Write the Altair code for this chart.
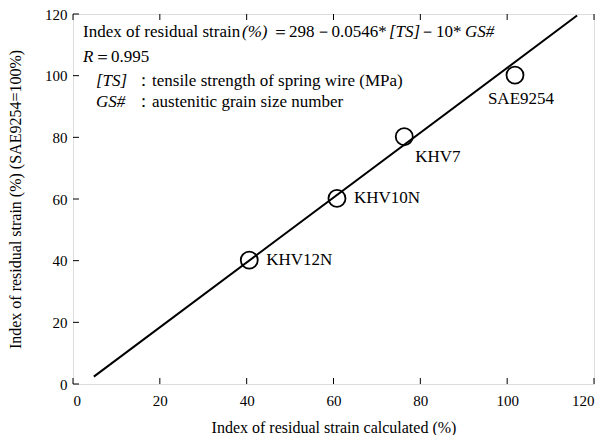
import altair as alt
import pandas as pd

# ---- data ----
steels = ["KHV12N", "KHV10N", "KHV7", "SAE9254"]
calc_idx = [40.6, 60.8, 76.3, 101.8]
meas_idx = [40.2, 60.2, 80.2, 100.2]
label_side = ["right", "right", "below", "below"]

fit_x = [4.8, 116.1]
fit_y = [2.4, 119.5]

tick_vals = [0, 20, 40, 60, 80, 100, 120]

FONT = "Liberation Serif, Times New Roman, serif"
FS = 15
AFS = 17
W, H = 521, 370

pts = pd.DataFrame({"steel": steels, "calc": calc_idx, "meas": meas_idx, "side": label_side})
fit = pd.DataFrame({"calc": fit_x, "meas": fit_y})
ticks = pd.DataFrame({"v": tick_vals})

xscale = alt.Scale(domain=[0, 120], nice=False)
yscale = alt.Scale(domain=[0, 120], nice=False)

xaxis = alt.Axis(values=tick_vals, ticks=False, domain=False, grid=False,
                 labelFont=FONT, labelFontSize=FS, labelColor="black", labelPadding=9,
                 title="Index of residual strain calculated  (%)", titleFont=FONT,
                 titleFontSize=16, titleFontWeight="normal", titleColor="black", titlePadding=11)
yaxis = alt.Axis(values=tick_vals, ticks=False, domain=False, grid=False,
                 labelFont=FONT, labelFontSize=FS, labelColor="black", labelPadding=6,
                 title="Index of residual strain (%)  (SAE9254=100%)", titleFont=FONT,
                 titleFontSize=16, titleFontWeight="normal", titleColor="black", titlePadding=21)

line = alt.Chart(fit).mark_line(color="black", strokeWidth=2).encode(
    x=alt.X("calc:Q", scale=xscale, axis=xaxis),
    y=alt.Y("meas:Q", scale=yscale, axis=yaxis),
)

circles = alt.Chart(pts).mark_point(shape="circle", size=290, filled=False,
                                    color="black", strokeWidth=1.8, opacity=1).encode(
    x=alt.X("calc:Q", scale=xscale), y=alt.Y("meas:Q", scale=yscale))

lab_right = alt.Chart(pts).transform_filter(alt.datum.side == "right").mark_text(
    font=FONT, fontSize=AFS, align="left", baseline="middle", dx=17, color="black").encode(
    x=alt.X("calc:Q", scale=xscale), y=alt.Y("meas:Q", scale=yscale), text="steel:N")

lab_k7 = alt.Chart(pts).transform_filter(alt.datum.steel == "KHV7").mark_text(
    font=FONT, fontSize=AFS, align="left", baseline="middle", dx=11, dy=20, color="black").encode(
    x=alt.X("calc:Q", scale=xscale), y=alt.Y("meas:Q", scale=yscale), text="steel:N")

lab_sae = alt.Chart(pts).transform_filter(alt.datum.steel == "SAE9254").mark_text(
    font=FONT, fontSize=AFS, align="center", baseline="middle", dx=6, dy=24, color="black").encode(
    x=alt.X("calc:Q", scale=xscale), y=alt.Y("meas:Q", scale=yscale), text="steel:N")

# inward ticks
tick_len = 6
t_bottom = alt.Chart(ticks).mark_rule(color="black", strokeWidth=1).encode(
    x=alt.X("v:Q", scale=xscale), y=alt.value(H), y2=alt.value(H - tick_len))
t_top = alt.Chart(ticks).mark_rule(color="black", strokeWidth=1).encode(
    x=alt.X("v:Q", scale=xscale), y=alt.value(0), y2=alt.value(tick_len))
t_left = alt.Chart(ticks).mark_rule(color="black", strokeWidth=1).encode(
    y=alt.Y("v:Q", scale=yscale), x=alt.value(0), x2=alt.value(tick_len))

# annotation segments
ann_text = ["Index of residual strain", "(%)", "\uff1d298\uff0d0.0546*", "[TS]", "\uff0d10*", "GS#",
            "R", "\uff1d0.995",
            "[TS]", "\uff1a", "tensile strength of spring wire (MPa)",
            "GS#", "\uff1a", "austenitic grain size number"]
ann_x = [10, 169, 199, 316, 346, 392,
         10, 21,
         23, 62, 79,
         23, 62, 79]
ann_y = [18, 18, 18, 18, 18, 18,
         43, 43,
         67, 67, 67,
         88, 88, 88]
ann_style = ["normal", "italic", "normal", "italic", "normal", "italic",
             "italic", "normal",
             "italic", "normal", "normal",
             "italic", "normal", "normal"]
ann = pd.DataFrame({"t": ann_text, "px": ann_x, "py": ann_y, "st": ann_style})

ann_norm = alt.Chart(ann).transform_filter(alt.datum.st == "normal").mark_text(
    font=FONT, fontSize=AFS, align="left", baseline="middle", color="black").encode(
    x=alt.X("px:Q", scale=None), y=alt.Y("py:Q", scale=None), text="t:N")
ann_ital = alt.Chart(ann).transform_filter(alt.datum.st == "italic").mark_text(
    font=FONT, fontSize=AFS, fontStyle="italic", align="left", baseline="middle", color="black").encode(
    x=alt.X("px:Q", scale=None), y=alt.Y("py:Q", scale=None), text="t:N")

chart = alt.layer(line, circles, lab_right, lab_k7, lab_sae, t_bottom, t_top, t_left,
                  ann_norm, ann_ital).properties(
    width=W, height=H,
    autosize=alt.AutoSizeParams(type="none"),
    padding={"left": 65, "top": 6, "right": 9, "bottom": 51}
).configure_view(stroke="black", strokeWidth=1).configure(background="white")

chart.save("out.html", embed_options={"renderer": "svg", "actions": False})
